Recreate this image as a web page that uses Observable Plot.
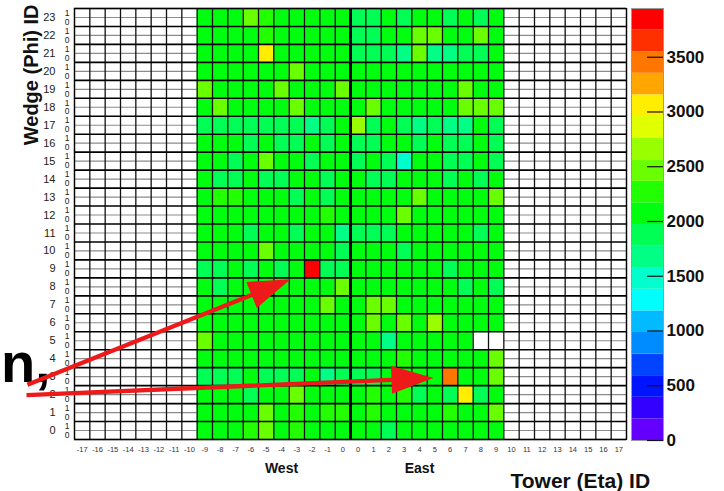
<!DOCTYPE html>
<html><head><meta charset="utf-8">
<script src="https://cdn.jsdelivr.net/npm/d3@7"></script>
<script src="https://cdn.jsdelivr.net/npm/@observablehq/plot@0.6"></script>
<style>
body{margin:0;background:#fff;}
#chart{position:relative;width:724px;height:491px;overflow:hidden;background:#fff;}
#chart svg{position:absolute;top:0;}
</style></head><body><div id="chart"></div>
<script>
// ---- data ----
const towerLabels = ["-17","-16","-15","-14","-13","-12","-11","-10","-9","-8","-7","-6","-5","-4","-3","-2","-1","0",
                     "0","1","2","3","4","5","6","7","8","9","10","11","12","13","14","15","16","17"];
const wedgeIds = [0,1,2,3,4,5,6,7,8,9,10,11,12,13,14,15,16,17,18,19,20,21,22,23];
const subRowLabels = ["0","1"];
// West towers -9 .. -0, one row per wedge 0..23
const westHits = [
  [2080,2080,2080,2270,2460,2080,2270,2080,2080,2080],
  [2080,2080,2080,2080,2460,2080,2270,2080,2270,2270],
  [2080,2080,2080,1880,2080,2080,2460,2080,2080,2080],
  [1880,1880,1880,2080,1880,1880,1880,2080,1690,1880],
  [2080,2080,2080,2080,2080,2080,2080,2080,2080,2080],
  [2460,2080,2080,2080,2080,2080,2080,2080,2080,2080],
  [2080,2080,2080,2080,2080,2080,2080,2080,2080,2080],
  [2080,2080,2080,2080,2080,2080,2080,2080,2460,2080],
  [2080,1880,2080,2080,2080,2080,2080,2080,2080,2460],
  [1880,1880,2080,1880,2080,1880,2080,3900,1880,1880],
  [2080,2080,2080,2080,2460,2080,2080,2080,2080,1880],
  [2080,2080,2080,1880,2080,2080,1880,2080,2080,1690],
  [2080,2080,2080,2080,2080,2080,2080,2080,2270,2080],
  [2080,2270,2270,2080,2080,2080,1880,2080,1880,2080],
  [2080,1880,1880,2080,1880,1880,2080,2080,1880,2080],
  [2080,2080,1880,2080,2460,2080,2080,1880,2080,2080],
  [2080,2080,2080,1880,2080,1880,1880,2080,1880,2080],
  [1880,1880,1880,1880,1880,1880,1880,1690,1880,2080],
  [2080,2460,2080,2080,2080,2080,2460,2080,2080,2080],
  [2460,2080,2080,2080,2080,2460,2080,2080,2080,2460],
  [2080,2080,2080,2080,2080,2080,2460,2080,2080,2080],
  [2080,2080,2080,2080,3060,2080,2080,2080,2080,2080],
  [2080,2080,2080,2080,2270,2080,2080,2080,2080,2080],
  [2080,2080,2080,2460,2270,2080,2080,2080,2080,2080]
];
// East towers 0 .. 9, one row per wedge 0..23
const eastHits = [
  [2080,2080,1880,2080,2080,2080,2080,2080,2080,2080],
  [2080,2270,2080,2080,2080,2080,2270,2080,2080,2460],
  [2080,2270,2080,2270,1880,2080,1880,3060,1880,2080],
  [1880,1880,2080,2080,2080,2080,3460,2080,2080,2460],
  [2080,2080,2080,2270,2080,2080,2080,2080,2080,2460],
  [2080,2080,1690,2080,2080,2080,2080,2080,null,null],
  [2080,2460,2080,2460,2080,2660,2080,2080,2080,2080],
  [2080,2460,2460,2080,2080,2080,2080,2080,2080,2080],
  [2080,2080,2080,2080,2080,2080,2080,1880,2080,1880],
  [2080,2080,2080,2080,2080,2080,1880,2080,2080,2080],
  [2080,2080,2080,1880,2080,2080,2080,2080,2080,2080],
  [1880,1880,1880,2080,2080,2080,2080,2080,1880,2080],
  [2080,2080,2080,2460,2080,2080,2080,2080,2080,2080],
  [2080,2080,2080,2080,2460,2080,2080,2080,2080,2460],
  [2080,1880,1880,2080,2080,2080,1880,2080,1880,2080],
  [1880,2080,1880,1480,2080,2080,1880,1880,2080,1880],
  [1880,1880,2080,2080,1880,2080,1880,1880,2080,1880],
  [2660,1880,2080,1880,1690,1880,1690,1690,2080,1880],
  [2080,2460,2080,2080,2080,2080,2080,2460,2460,2460],
  [2080,2080,2080,2080,2080,2080,2080,2460,2080,2080],
  [2080,2080,2080,2080,2080,2080,2080,2080,2080,2080],
  [1880,1880,1880,1690,2460,1690,1690,1880,1880,2080],
  [1880,1880,2080,2080,2460,2460,2080,2080,2460,2080],
  [1880,1880,2080,1880,2080,2080,1880,2080,1880,2080]
];
const colorTicks = [0,500,1000,1500,2000,2500,3000,3500];
const zMax = 3945;
const sideLabels = ["West","East"];
const axisTitles = ["Wedge (Phi) ID","Tower (Eta) ID"];
const notes = ["n,"];
// annotation arrows (data units: tower column index, wedge)
const arrows = [
  {x1: -3.07, y1: 3.05, x2: 14.09, y2: 8.92},
  {x1: -3.13, y1: 2.47, x2: 23.41, y2: 3.42}
];

// ---- scales / palette ----
const nBands = 20;
const bandThresholds = d3.range(1, nBands).map(k => k * zMax / nBands);
const rootPalette = d3.range(nBands).map(k => {
  const idx = Math.floor((k + 0.99) * 50 / nBands);
  const hue = idx >= 49 ? 0 : 280 - (idx + 1) * 5.6;
  return d3.hsl(hue, 1, 0.5).formatHex();
});
const colorOpts = {type: "threshold", domain: bandThresholds, range: rootPalette};

const cells = [];
wedgeIds.forEach((w, wi) => {
  westHits[wi].forEach((v, j) => { if (v != null) cells.push({col: 8 + j, wedge: w, value: v}); });
  eastHits[wi].forEach((v, j) => { if (v != null) cells.push({col: 18 + j, wedge: w, value: v}); });
});

const W = 724, H = 491;
const M = {top: 8, right: 98, bottom: 52, left: 74};
const FONT = "'Liberation Sans', Arial, Helvetica, sans-serif";
const sx = Plot.scale({x: {domain: [0, 36], range: [M.left, W - M.right]}});
const sy = Plot.scale({y: {domain: [0, 24], range: [H - M.bottom, M.top]}});
const arrowData = arrows.map(a => {
  const px = sx.apply(a.x2) - sx.apply(a.x1), py = sy.apply(a.y2) - sy.apply(a.y1);
  return {...a, angle: Math.atan2(px, -py) * 180 / Math.PI, len: Math.hypot(px, py)};
});
const arrowShape = {
  draw(context, l) {
    const hl = 42, hw = 14, sw = 2.2;
    context.moveTo(0, 0);
    context.lineTo(hw, hl);
    context.lineTo(sw, hl);
    context.lineTo(sw, l);
    context.lineTo(-sw, l);
    context.lineTo(-sw, hl);
    context.lineTo(-hw, hl);
    context.closePath();
  }
};
const colEdges = d3.range(0, towerLabels.length + 1);
const wedgeEdges = d3.range(0, wedgeIds.length + 1);
const subRows = wedgeIds.flatMap(w => subRowLabels.map((s, i) => ({w: w + 0.25 + 0.5 * i, s})));

const main = Plot.plot({
  width: W, height: H,
  marginTop: M.top, marginRight: M.right, marginBottom: M.bottom, marginLeft: M.left,
  x: {domain: [0, 36], axis: null},
  y: {domain: [0, 24], axis: null},
  color: colorOpts,
  length: {type: "identity"},
  style: {fontFamily: FONT, background: "transparent", overflow: "visible"},
  marks: [
    Plot.rect(cells, {x1: "col", x2: d => d.col + 1, y1: "wedge", y2: d => d.wedge + 1, fill: "value"}),
    Plot.ruleY(wedgeIds, {y: d => d + 0.5, x1: 0, x2: 8, stroke: "#8c8c8c", strokeWidth: 1.2}),
    Plot.ruleY(wedgeIds, {y: d => d + 0.5, x1: 28, x2: 36, stroke: "#8c8c8c", strokeWidth: 1.2}),
    Plot.ruleX(colEdges, {x: d => d, y1: 0, y2: 24, stroke: "#111", strokeWidth: 1.3}),
    Plot.ruleY(wedgeEdges, {y: d => d, x1: 0, x2: 36, stroke: "#000", strokeWidth: 1.6}),
    Plot.ruleX([18], {y1: 0, y2: 24, stroke: "#000", strokeWidth: 3}),
    Plot.frame({stroke: "#000", strokeWidth: 1.2}),
    Plot.text(towerLabels, {x: (d, i) => i + 0.5, y: 0, text: d => d, dy: 10, fontSize: 7.5, fill: "#333"}),
    Plot.text(wedgeIds, {x: 0, y: d => d + 0.5, text: d => String(d), dx: -19, textAnchor: "end", fontSize: 11, fill: "#222"}),
    Plot.text(subRows, {x: 0, y: "w", text: "s", dx: -7.5, textAnchor: "middle", fontSize: 8.5, fill: "#222"}),
    Plot.text([sideLabels[0]], {x: 13.5, y: 0, dy: 29, fontSize: 14, fontWeight: "bold", fill: "#111"}),
    Plot.text([sideLabels[1]], {x: 22.5, y: 0, dy: 29, fontSize: 14, fontWeight: "bold", fill: "#111"}),
    Plot.text([axisTitles[0]], {frameAnchor: "top-left", rotate: -90, textAnchor: "end", dx: -51, dy: -4, fontSize: 20, fontWeight: "bold", fill: "#111"}),
    Plot.text([axisTitles[1]], {frameAnchor: "bottom-right", textAnchor: "start", lineAnchor: "bottom", dx: -116, dy: 48, fontSize: 21, fontWeight: "bold", fill: "#111"}),
    Plot.text(notes, {x: -4.8, y: 3.2, textAnchor: "start", lineAnchor: "bottom", fontSize: 56, fontWeight: "bold", fill: "#000"}),
    Plot.vector(arrowData, {x: "x2", y: "y2", rotate: "angle", length: "len", anchor: "start", shape: arrowShape, fill: "#ee1a1a", stroke: "none"})
  ]
});

const cbBands = d3.range(nBands).map(k => ({lo: k * zMax / nBands, hi: (k + 1) * zMax / nBands, mid: (k + 0.5) * zMax / nBands}));
const bar = Plot.plot({
  width: 104, height: H,
  marginTop: 8, marginBottom: 51, marginLeft: 11, marginRight: 61,
  x: {domain: [0, 1], axis: null},
  y: {domain: [0, zMax], axis: null},
  color: colorOpts,
  style: {fontFamily: FONT, background: "transparent", overflow: "visible"},
  marks: [
    Plot.rect(cbBands, {x1: 0, x2: 1, y1: "lo", y2: "hi", fill: "mid"}),
    Plot.frame({stroke: "#9a9a9a", strokeWidth: 1}),
    Plot.ruleY(colorTicks, {y: d => d, x1: 0.5, x2: 1, stroke: "#111", strokeWidth: 1.2}),
    Plot.text(colorTicks, {x: 1, y: d => d, text: d => String(d), dx: 3, textAnchor: "start", fontSize: 17, fontWeight: "bold", fill: "#111"})
  ]
});

const chart = document.getElementById("chart");
main.style.left = "0px";
bar.style.left = "620px";
chart.appendChild(main);
chart.appendChild(bar);
</script>
</body></html>
